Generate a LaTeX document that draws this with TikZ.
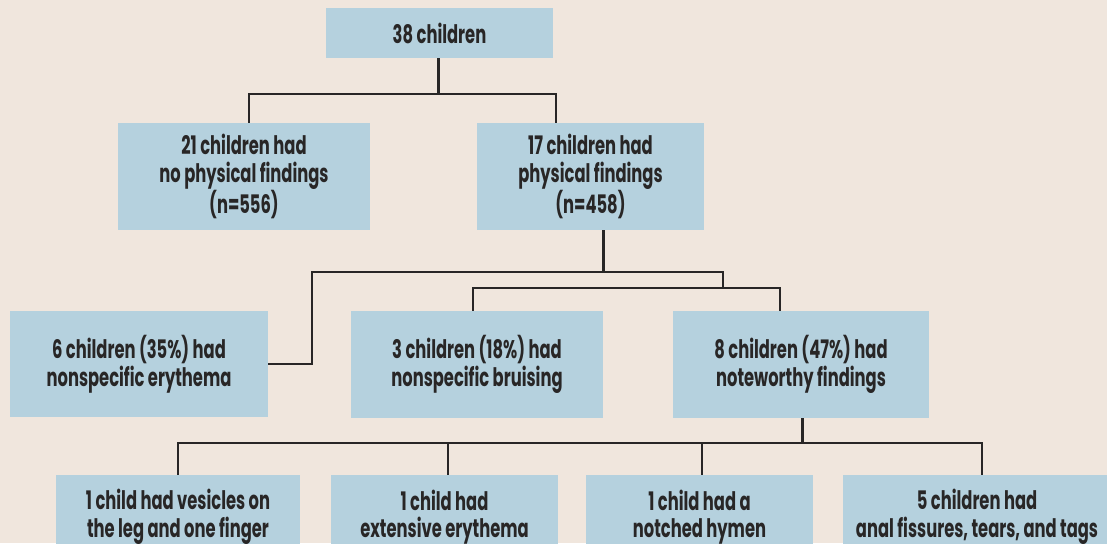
\documentclass[tikz,border=0pt]{standalone}
\usepackage{fontspec}
\setmainfont{Poppins}[FakeStretch=0.64]
\usetikzlibrary{calc}
\definecolor{bgcream}{RGB}{240,230,221}
\definecolor{boxblue}{RGB}{181,209,222}
\definecolor{inkgray}{RGB}{40,38,38}

\tikzset{
  box/.style={fill=boxblue, text=inkgray, align=center, inner sep=0pt,
    font=\bfseries\fontsize{25.5}{27.5}\selectfont},
  link/.style={draw=inkgray, line width=2pt},
  trunk/.style={draw=inkgray, line width=3pt},
}

\begin{document}
\begin{tikzpicture}[x=1pt,y=-1pt]
    \fill[bgcream] (0,0) rectangle (1107,543);
    \useasboundingbox (0,0) rectangle (1107,543);
    \clip (0,0) rectangle (1107,543);

    % top level
    \node[box, minimum width=227pt, minimum height=50pt] (root) at (439.5,33) {38 children};
    \node[box, minimum width=252pt, minimum height=107pt] (nofind) at (244,176.5)
        {21 children had\\no physical findings\\(n=556)};
    \node[box, minimum width=227pt, minimum height=107pt] (find) at (590.5,176.5)
        {17 children had\\physical findings\\(n=458)};

    % second level
    \node[box, minimum width=258pt, minimum height=106pt] (ery) at (139,364)
        {6 children (35\%) had\\nonspecific erythema};
    \node[box, minimum width=252pt, minimum height=107pt] (bruise) at (477,364.5)
        {3 children (18\%) had\\nonspecific bruising};
    \node[box, minimum width=256pt, minimum height=107pt] (note) at (801,364.5)
        {8 children (47\%) had\\noteworthy findings};

    % bottom row
    \node[box, minimum width=244pt, minimum height=84pt] (vesic) at (178,517)
        {1 child had vesicles on\\the leg and one finger};
    \node[box, minimum width=227pt, minimum height=84pt] (extery) at (444.5,517)
        {1 child had\\extensive erythema};
    \node[box, minimum width=227pt, minimum height=84pt] (hymen) at (699.5,517)
        {1 child had a\\notched hymen};
    \node[box, minimum width=268pt, minimum height=84pt] (anal) at (977,517)
        {5 children had\\anal fissures, tears, and tags};

    % connectors
    \draw[trunk] ([xshift=-1.5pt]root.south) -- ++(0,36) coordinate (j0);
    \draw[link] ([xshift=5pt]nofind.north) |- (j0) -| ([xshift=-34.5pt]find.north);

    \draw[trunk] ([xshift=12.5pt]find.south) -- ++(0,42) coordinate (j1);
    \draw[link] (ery.east) -- ++(44,0) |- (j1) -- ++(120,0) -- ++(0,16) coordinate (j2);
    \draw[link] ([xshift=-4pt]bruise.north) |- (j2) -| ([xshift=-21pt]note.north);

    \draw[trunk] ([xshift=1pt]note.south) -- ++(0,25) coordinate (j3);
    \draw[link] (vesic.north) |- (j3) -| ([xshift=5pt]anal.north);
    \draw[link] ([xshift=3.5pt]extery.north) -- ([xshift=3.5pt]extery.north |- j3);
    \draw[link] ([xshift=2.5pt]hymen.north) -- ([xshift=2.5pt]hymen.north |- j3);
\end{tikzpicture}
\end{document}
